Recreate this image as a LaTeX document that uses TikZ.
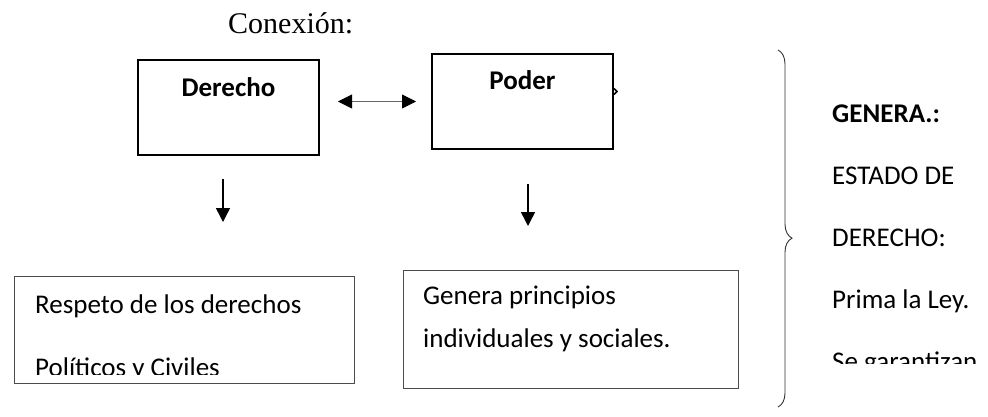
\documentclass[tikz,border=0pt]{standalone}
\usepackage{fontspec}
\setmainfont{Carlito}
\newfontfamily\serifface{Liberation Serif}
\usetikzlibrary{arrows.meta,positioning,decorations.pathreplacing}

\begin{document}
\begin{tikzpicture}
[x=1pt, y=-1pt,
 every node/.style={inner sep=0pt, font=\fontsize{27}{32}\selectfont},
 box/.style={draw, rectangle, anchor=north west},
 boldbox/.style={box, line width=2pt, minimum width=181pt, minimum height=95pt},
 thinbox/.style={box, draw=black!70, line width=1pt},
 txt/.style={anchor=base west},
 bold/.style={font=\fontsize{27}{32}\selectfont\bfseries},
 downarrow/.style={-{Triangle[length=14pt,width=14pt]}, line width=1.5pt}]
\useasboundingbox (0,0) rectangle (988,416);

\node[txt, font=\serifface\fontsize{30}{36}\selectfont] (conexion) at (228,33) {Conexión:};

% top boxes
\node[boldbox] (derecho) at (137,59) {};
\node[anchor=base, bold] (derechoLabel) at ([yshift=-37pt]derecho.north) {Derecho};
\node[boldbox] (poder) at (431,53) {};
\node[anchor=base, bold] (poderLabel) at ([yshift=-36pt]poder.north) {Poder};
\draw[line width=1.5pt] ([yshift=13pt]poder.east) -- ++(3,3) -- ++(-3,3);

\draw[{Triangle[length=14pt,width=14pt,color=black]}-{Triangle[length=14pt,width=14pt,color=black]},
      draw=black!60, line width=0.8pt, shorten <=18pt, shorten >=15pt]
  (derecho.east |- poder.west) -- (poder.west);

% bottom boxes
\node[thinbox, minimum width=340pt, minimum height=107pt] (respeto) at (14,276) {};
\begin{scope}
\clip (respeto.north west) rectangle ([yshift=10pt]respeto.south east);
\node[txt] (respeto1) at (35,313) {Respeto de los derechos};
\node[txt] (respeto2) at (35,376) {Políticos y Civiles};
\end{scope}

\node[thinbox, minimum width=335pt, minimum height=118pt] (genera) at (403,270) {};
\node[txt] (genera1) at (423,304) {Genera principios};
\node[txt] (genera2) at (423,347) {individuales y sociales.};

\draw[downarrow, shorten <=23pt, shorten >=54pt]
  ([xshift=-5.5pt]derecho.south) -- ([xshift=-5.5pt]derecho.south |- respeto.north);
\draw[downarrow, shorten <=34pt, shorten >=44pt]
  ([xshift=5.5pt]poder.south) -- ([xshift=5.5pt]poder.south |- genera.north);

% brace and result
\coordinate (braceTop) at (778,50);
\coordinate (braceBottom) at (778,407);
\draw[decorate, decoration={brace, amplitude=14pt, aspect=0.527}, draw=black!80, line width=0.9pt]
  (braceTop) -- (braceBottom);

\node[txt, bold] (estadoHead) at (832,122) {GENERA.:};
\begin{scope}
\clip (0,0) rectangle (988,363);
\foreach \entry [count=\i] in {ESTADO DE, DERECHO:, Prima la Ley., Se garantizan}
  \node[txt] (estado\i) at (832,122+62*\i) {\entry};
\end{scope}
\end{tikzpicture}
\end{document}
